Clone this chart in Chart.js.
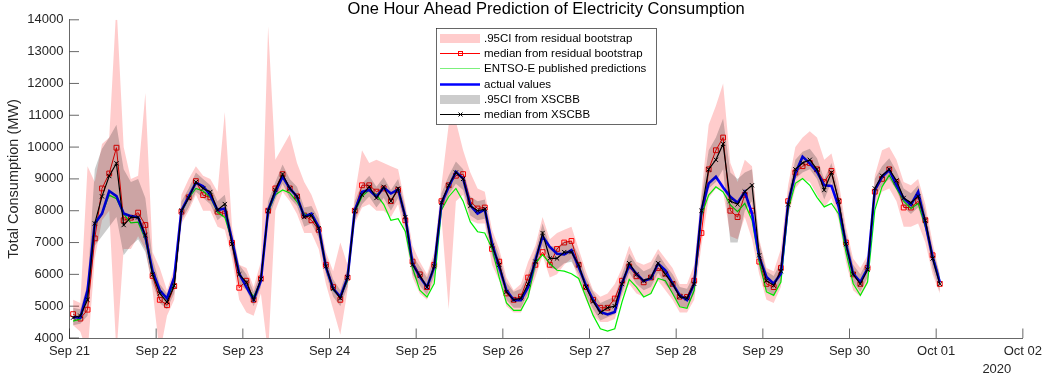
<!DOCTYPE html>
<html>
<head>
<meta charset="utf-8">
<title>One Hour Ahead Prediction of Electricity Consumption</title>
<script src="https://cdn.jsdelivr.net/npm/chart.js@4.4.1/dist/chart.umd.min.js"></script>
<style>
  html, body { margin: 0; padding: 0; background: #fff; }
  #wrap { width: 1048px; height: 379px; }
</style>
</head>
<body>
<div id="wrap"><canvas id="chart"></canvas></div>
<script>
// hourly series, read every 2 hours (h = 1, 3, ..., 241 counted from Sep 21 00:00)
const firstHour = 1;
const stepHours = 2;

const tickLabels = ['Sep 21', 'Sep 22', 'Sep 23', 'Sep 24', 'Sep 25', 'Sep 26',
  'Sep 27', 'Sep 28', 'Sep 29', 'Sep 30', 'Oct 01', 'Oct 02'];
const yearLabel = '2020';

const actual = [
  4650, 4640, 5500, 7600, 7910, 8620, 8460, 7910, 7830, 7790, 7200, 6100, // Sep 21
  5500, 5240, 5900, 8000, 8440, 8880, 8770, 8490, 8020, 8070, 7070, 6020, // Sep 22
  5600, 5200, 5800, 8020, 8590, 9070, 8700, 8440, 7810, 7910, 7490, 6230, // Sep 23
  5550, 5290, 5900, 8020, 8590, 8650, 8440, 8730, 8540, 8670, 7810, 6340, // Sep 24
  5920, 5600, 6230, 8230, 8750, 9220, 9010, 8170, 7910, 8040, 6970, 6230, // Sep 25
  5500, 5190, 5190, 5600, 6440, 7200, 6860, 6650, 6630, 6760, 6230, 5660, // Sep 26
  5190, 4820, 4740, 4820, 5710, 6290, 6020, 5790, 5870, 6340, 6130, 5710, // Sep 27
  5340, 5190, 5710, 8020, 8860, 9070, 8730, 8440, 8250, 8590, 7910, 6550, // Sep 28
  5920, 5710, 6020, 8230, 9170, 9700, 9490, 9220, 8800, 8780, 8120, 6970, // Sep 29
  6020, 5760, 6180, 8650, 9070, 9280, 8800, 8390, 8180, 8590, 7600, 6550, // Sep 30
  5760
];

const entsoe = [
  4530, 4600, 5400, 7550, 7900, 8490, 8380, 7900, 7620, 7640, 7100, 6000,
  5450, 5270, 5700, 7950, 8400, 8700, 8620, 8420, 7950, 7790, 7050, 6000,
  5600, 5300, 5800, 7950, 8500, 8650, 8560, 8280, 7900, 7850, 7450, 6200,
  5500, 5300, 5800, 7950, 8450, 8650, 8500, 8200, 7700, 7750, 7350, 6200,
  5500, 5290, 5710, 8020, 8440, 8700, 8300, 7650, 7340, 7300, 6810, 5900,
  5100, 4870, 4870, 5290, 6340, 6620, 6340, 6130, 6100, 6020, 5870, 5290,
  4710, 4290, 4220, 4290, 5130, 5840, 5600, 5290, 5400, 5870, 5800, 5400,
  4980, 4930, 5500, 7860, 8490, 8750, 8590, 8180, 7970, 8230, 7700, 6390,
  5450, 5340, 5760, 8020, 8860, 9010, 8800, 8420, 8120, 8230, 7900, 6700,
  5710, 5340, 5760, 8020, 8750, 9120, 8700, 8300, 8070, 8230, 7500, 6600,
  5800
];

const rbMedian = [
  4750, 4610, 4890, 7130, 8700, 9170, 9980, 7700, 7780, 7940, 7550, 5950,
  5200, 5030, 5630, 7970, 8420, 8930, 8490, 8420, 7970, 7910, 6990, 5580,
  5800, 5200, 5870, 8000, 8700, 9150, 8700, 8450, 7850, 7700, 7400, 6300,
  5600, 5200, 5900, 8000, 8800, 8800, 8600, 8700, 8300, 8650, 7700, 6400,
  6000, 5600, 6300, 8300, 8800, 9100, 9150, 8300, 8070, 8100, 6800, 6400,
  5400, 5200, 5300, 5900, 6300, 6700, 6300, 6800, 7000, 7050, 6300, 5600,
  5200, 4950, 4950, 5240, 5800, 6250, 5940, 5750, 5900, 6200, 6020, 5700,
  5300, 5290, 5800, 7300, 9300, 9900, 10300, 8000, 7800, 8500, 8000, 6400,
  5700, 5600, 6200, 8300, 9200, 9400, 9500, 9300, 8900, 9250, 8300, 7000,
  6000, 5700, 6200, 8600, 9000, 9300, 8900, 8100, 8100, 8300, 7700, 6600,
  5700
];

const rbLow = [
  4400, 4200, 3500, 6500, 7700, 8000, 3500, 6800, 6800, 7200, 6800, 5500,
  3500, 4700, 5200, 7600, 8000, 8500, 8000, 8000, 7500, 7400, 6500, 5200,
  4800, 4700, 5400, 3500, 8000, 8600, 8300, 7900, 7300, 7300, 6800, 5700,
  4900, 4100, 5500, 7600, 8100, 8200, 8000, 8000, 7800, 8200, 7200, 5900,
  5400, 5200, 5800, 7800, 4900, 8300, 8500, 7700, 7600, 7600, 6300, 5800,
  5000, 4800, 4800, 5300, 5900, 6600, 5900, 6000, 6300, 6500, 5800, 5200,
  4700, 4500, 4500, 4600, 5300, 5700, 5400, 5300, 5400, 5800, 5500, 5200,
  4800, 4800, 5200, 6900, 8400, 8700, 8600, 7200, 7100, 7800, 7100, 6000,
  5200, 5100, 5600, 7800, 8700, 9000, 8900, 8500, 8100, 8400, 7700, 6400,
  5500, 5300, 5700, 8100, 8600, 8700, 8300, 7500, 7500, 7600, 7000, 6000,
  5400
];

const rbHigh = [
  5200, 5100, 9400, 8900, 10100, 10300, 14500, 10000, 9000, 9100, 11700, 6700,
  6200, 5500, 6200, 8500, 9000, 9400, 9100, 9000, 8600, 11100, 7500, 6300,
  6200, 5600, 6400, 13800, 9600, 10000, 10400, 9500, 8900, 8500, 7900, 6700,
  6100, 7000, 6300, 8500, 9900, 9500, 9600, 9500, 9400, 9300, 8200, 6900,
  6400, 6000, 6700, 8800, 10700, 10800, 9900, 9200, 8700, 8600, 7400, 6800,
  5900, 5500, 5700, 6400, 6900, 7800, 7100, 7300, 7400, 7500, 6800, 6100,
  5500, 5300, 5400, 5700, 6200, 6900, 6400, 6300, 6400, 6800, 6500, 6200,
  5700, 5700, 6300, 8600, 10700, 11300, 12000, 9500, 8900, 9600, 9400, 7100,
  6200, 6100, 6800, 8800, 10000, 10300, 10500, 10300, 9600, 9800, 8900, 7500,
  6500, 6200, 6600, 9100, 9900, 10000, 9600, 8900, 8800, 9000, 8200, 7000,
  6000
];

const xsMedian = [
  4640, 4700, 5200, 7600, 8450, 9090, 9490, 7550, 7790, 7790, 7230, 6000,
  5400, 5130, 5640, 8000, 8400, 8900, 8700, 8590, 8020, 8210, 6950, 6000,
  5750, 5200, 5850, 8000, 8650, 9150, 8700, 8450, 7800, 7850, 7450, 6250,
  5550, 5250, 5900, 8000, 8500, 8750, 8400, 8750, 8300, 8700, 7800, 6300,
  5950, 5600, 6250, 8250, 8800, 9200, 9000, 8150, 8000, 8050, 6900, 6300,
  5450, 5200, 5250, 5700, 6400, 7300, 6500, 6500, 6700, 6700, 6300, 5600,
  5150, 4800, 4950, 5000, 5700, 6350, 6000, 5800, 5900, 6350, 6000, 5700,
  5300, 5250, 5700, 8000, 9300, 9600, 10100, 8300, 8200, 8600, 8800, 6600,
  5800, 5650, 6100, 8200, 9300, 9500, 9600, 9300, 8650, 9200, 8300, 6950,
  6000, 5700, 6150, 8700, 9100, 9300, 8950, 8400, 8250, 8450, 7700, 6500,
  5700
];

const xsLow = [
  4400, 4450, 4700, 6900, 7200, 7500, 7800, 6600, 6900, 7100, 6700, 5700,
  5100, 4900, 5400, 7700, 8100, 8600, 8400, 8200, 7700, 7900, 6700, 5700,
  5500, 5000, 5600, 7700, 8350, 8850, 8400, 8150, 7500, 7600, 7150, 6000,
  5300, 5000, 5600, 7700, 8200, 8450, 8100, 8400, 8000, 8400, 7500, 6000,
  5650, 5350, 5950, 7950, 8500, 8850, 8650, 7850, 7700, 7750, 6600, 6000,
  5200, 4950, 4950, 5400, 6100, 6900, 6200, 6150, 6350, 6400, 6000, 5350,
  4900, 4550, 4650, 4750, 5400, 6050, 5700, 5500, 5600, 6050, 5700, 5400,
  5000, 4950, 5400, 7600, 8700, 8900, 9300, 7000, 7000, 8000, 8300, 6200,
  5500, 5350, 5800, 7900, 9000, 9200, 9300, 9000, 8350, 8900, 8000, 6700,
  5750, 5450, 5900, 8400, 8800, 9000, 8650, 8100, 7900, 8100, 7400, 6200,
  5450
];

const xsHigh = [
  4950, 4900, 5700, 9300, 9950, 10300, 10700, 9300, 8900, 9000, 8400, 6500,
  5700, 5400, 6000, 8300, 8700, 9200, 9000, 8800, 8300, 8500, 7300, 6300,
  6000, 5450, 6100, 8300, 8900, 9450, 9000, 8750, 8100, 8150, 7750, 6550,
  5850, 5500, 6200, 8300, 8850, 9100, 8750, 9050, 8650, 9000, 8100, 6600,
  6250, 5900, 6550, 8550, 9100, 9550, 9300, 8450, 8300, 8350, 7200, 6600,
  5750, 5450, 5550, 6000, 6700, 7600, 6900, 6850, 7050, 7050, 6600, 5900,
  5450, 5100, 5200, 5300, 6000, 6650, 6300, 6100, 6200, 6650, 6300, 6000,
  5600, 5550, 6000, 8400, 9900, 10300, 10900, 9200, 9000, 9200, 9300, 7000,
  6100, 5950, 6400, 8500, 9600, 9850, 9950, 9650, 9000, 9500, 8600, 7300,
  6300, 6000, 6450, 9000, 9400, 9650, 9250, 8700, 8550, 8800, 8000, 6800,
  6000
];

const toPoints = (values) => values.map((v, i) => ({ x: firstHour + i * stepHours, y: v }));

const axisColor = '#262626';
const pinkBand = 'rgba(255, 0, 0, 0.2)';
const grayBand = 'rgba(0, 0, 0, 0.2)';
const redLine = '#ff0000';
const greenLine = '#00ee00';
const blueLine = '#0000ff';
const blackLine = '#000000';

Chart.defaults.font.family = '"Liberation Sans", Arial, Helvetica, sans-serif';
Chart.defaults.color = axisColor;

// datasets listed top layer first (Chart.js paints index 0 last)
const datasets = [
  {
    label: 'median from XSCBB', data: toPoints(xsMedian),
    borderColor: blackLine, borderWidth: 1.2, pointStyle: 'crossRot', pointRadius: 3,
    pointBorderColor: blackLine, pointBorderWidth: 1, fill: false,
    legend: { kind: 'line', color: blackLine, width: 1.2, marker: 'x', order: 5 },
  },
  {
    label: '.95CI from XSCBB', data: toPoints(xsHigh),
    borderWidth: 0, pointRadius: 0, backgroundColor: grayBand, fill: '+1',
    legend: { kind: 'band', color: grayBand, order: 4 },
  },
  { label: 'xs low', data: toPoints(xsLow), borderWidth: 0, pointRadius: 0, fill: false },
  {
    label: 'actual values', data: toPoints(actual),
    borderColor: blueLine, borderWidth: 2.6, pointRadius: 0, fill: false,
    legend: { kind: 'line', color: blueLine, width: 2.6, order: 3 },
  },
  {
    label: 'ENTSO-E published predictions', data: toPoints(entsoe),
    borderColor: greenLine, borderWidth: 1.2, pointRadius: 0, fill: false,
    legend: { kind: 'line', color: '#7cf07c', width: 1, order: 2 },
  },
  {
    label: 'median from residual bootstrap', data: toPoints(rbMedian),
    borderColor: redLine, borderWidth: 1, pointStyle: 'rect', pointRadius: 3.4,
    pointBorderColor: redLine, pointBackgroundColor: 'rgba(0,0,0,0)', pointBorderWidth: 1,
    fill: false,
    legend: { kind: 'line', color: redLine, width: 1, marker: 'square', order: 1 },
  },
  {
    label: '.95CI from residual bootstrap', data: toPoints(rbHigh),
    borderWidth: 0, pointRadius: 0, backgroundColor: pinkBand, fill: '+1',
    legend: { kind: 'band', color: pinkBand, order: 0 },
  },
  { label: 'rb low', data: toPoints(rbLow), borderWidth: 0, pointRadius: 0, fill: false },
];

// MATLAB style inward tick marks
const innerTicks = {
  id: 'innerTicks',
  beforeDatasetsDraw(chart) {
    const { ctx, chartArea: a, scales: { x, y } } = chart;
    const len = 9.5;
    ctx.save();
    ctx.strokeStyle = axisColor;
    ctx.lineWidth = 0.7;
    ctx.beginPath();
    x.ticks.forEach((t) => {
      const px = x.getPixelForValue(t.value);
      ctx.moveTo(px, a.bottom);
      ctx.lineTo(px, a.bottom - len);
    });
    y.ticks.forEach((t) => {
      const py = y.getPixelForValue(t.value);
      ctx.moveTo(a.left, py);
      ctx.lineTo(a.left + len, py);
    });
    ctx.stroke();
    ctx.restore();
  },
  afterDraw(chart) {
    const { ctx, chartArea: a, scales: { x } } = chart;
    ctx.save();
    ctx.fillStyle = axisColor;
    ctx.font = '13px ' + Chart.defaults.font.family;
    ctx.textAlign = 'center';
    ctx.textBaseline = 'middle';
    ctx.fillText(yearLabel, x.getPixelForValue(264) - 26, a.bottom + 31);
    ctx.restore();
  },
};

// boxed legend in the top middle, like the MATLAB 'north' legend
const boxLegend = {
  id: 'boxLegend',
  afterDraw(chart) {
    const { ctx, chartArea: a } = chart;
    const items = chart.data.datasets.filter((d) => d.legend)
      .sort((p, q) => p.legend.order - q.legend.order);
    ctx.save();
    ctx.font = '11.5px ' + Chart.defaults.font.family;
    const textW = Math.max(...items.map((d) => ctx.measureText(d.label).width));
    const rowH = 15.2;
    const w = Math.round(48 + textW + 10);
    const h = Math.round(items.length * rowH + 5);
    const left = Math.round((a.left + a.right) / 2 - w / 2) + 0.5;
    const top = Math.round(a.top + 8) + 0.5;
    ctx.fillStyle = '#fff';
    ctx.fillRect(left, top, w, h);
    ctx.strokeStyle = axisColor;
    ctx.lineWidth = 0.7;
    ctx.strokeRect(left, top, w, h);
    items.forEach((d, i) => {
      const lg = d.legend;
      const cy = Math.round(top + 9.5 + i * rowH) + 0.5;
      const x0 = left + 3.5;
      const x1 = x0 + 40;
      const xm = Math.round((x0 + x1) / 2) + 0.5;
      if (lg.kind === 'band') {
        ctx.fillStyle = lg.color;
        ctx.fillRect(x0, cy - 4.5, 40, 9);
      } else {
        ctx.strokeStyle = lg.color;
        ctx.lineWidth = lg.width;
        ctx.beginPath();
        ctx.moveTo(x0, cy);
        ctx.lineTo(x1, cy);
        ctx.stroke();
        ctx.lineWidth = 1;
        if (lg.marker === 'square') {
          ctx.strokeRect(xm - 2, cy - 2, 4, 4);
        } else if (lg.marker === 'x') {
          ctx.beginPath();
          ctx.moveTo(xm - 2, cy - 2); ctx.lineTo(xm + 2, cy + 2);
          ctx.moveTo(xm - 2, cy + 2); ctx.lineTo(xm + 2, cy - 2);
          ctx.stroke();
        }
      }
      ctx.fillStyle = '#000';
      ctx.textAlign = 'left';
      ctx.textBaseline = 'middle';
      ctx.fillText(d.label, x1 + 4, cy);
    });
    ctx.restore();
  },
};

const config = {
  type: 'line',
  data: { datasets: datasets },
  options: {
    responsive: true,
    maintainAspectRatio: false,
    animation: false,
    events: [],
    layout: { padding: { left: 0, right: 24, top: 0, bottom: 0 } },
    scales: {
      x: {
        type: 'linear',
        min: 0,
        max: 264,
        afterFit(scale) { scale.height = 41; },
        afterBuildTicks(scale) {
          scale.ticks = tickLabels.map((_, i) => ({ value: i * 24 }));
        },
        ticks: {
          autoSkip: false,
          maxRotation: 0,
          padding: 6,
          font: { size: 13 },
          color: axisColor,
          callback: (v) => tickLabels[Math.round(v / 24)],
        },
        grid: { display: false, drawTicks: false },
        border: { display: true, color: axisColor, width: 0.7 },
      },
      y: {
        min: 4000,
        max: 14000,
        afterFit(scale) { scale.width = 69.5; },
        ticks: {
          stepSize: 1000, padding: 6, font: { size: 13 }, color: axisColor,
          callback: (v) => String(v),
        },
        grid: { display: false, drawTicks: false },
        border: { display: true, color: axisColor, width: 0.7 },
        title: {
          display: true,
          text: 'Total Consumption (MW)',
          font: { size: 14.5 },
          color: axisColor,
          padding: { top: 5, bottom: 0 },
        },
      },
    },
    plugins: {
      legend: { display: false },
      tooltip: { enabled: false },
      title: {
        display: true,
        fullSize: false,
        text: 'One Hour Ahead Prediction of Electricity Consumption',
        font: { size: 16.5, weight: 'normal' },
        color: '#000',
        padding: { top: 0, bottom: 0 },
      },
    },
  },
  plugins: [innerTicks, boxLegend],
};

const myChart = new Chart(document.getElementById('chart'), config);
</script>
</body>
</html>
